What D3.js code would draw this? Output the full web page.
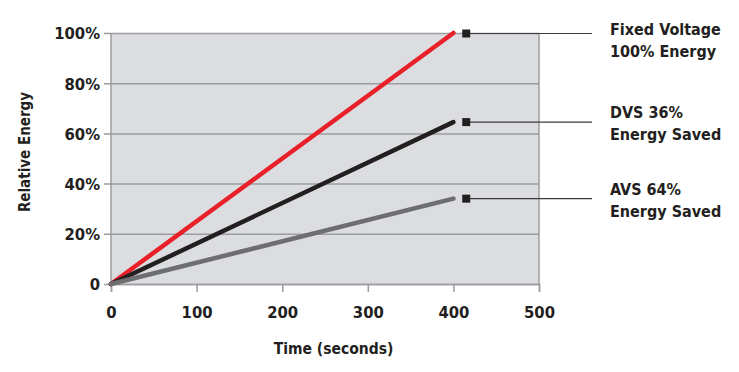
<!DOCTYPE html>
<html>
<head>
<meta charset="utf-8">
<script src="https://cdn.jsdelivr.net/npm/d3@7"></script>
<style>
  body { margin: 0; background: #fff; }
  svg text { font-family: "Liberation Sans Narrow", "DejaVu Sans Condensed", "Arial Narrow", sans-serif; font-weight: bold; fill: #231f20; }
</style>
</head>
<body>
<div id="chart"></div>
<script>
// chart values
var xTicks = [0, 100, 200, 300, 400, 500];
var yTicks = [0, 20, 40, 60, 80, 100];
var seriesNames = ["Fixed Voltage", "DVS", "AVS"];
var seriesEnd = [100, 64.5, 34];   // relative energy at t = 400 s
var seriesTime = [0, 400];
var seriesColors = ["#e8202a", "#231f20", "#6d6e70"];
var legendLines = [
  ["Fixed Voltage", "100% Energy"],
  ["DVS 36%", "Energy Saved"],
  ["AVS 64%", "Energy Saved"]
];

var margin = {top: 33, right: 200, bottom: 88, left: 111},
    width = 739 - margin.left - margin.right,
    height = 372 - margin.top - margin.bottom;

var svg = d3.select("#chart").append("svg")
    .attr("width", 739)
    .attr("height", 372);

var g = svg.append("g")
    .attr("transform", "translate(" + margin.left + "," + margin.top + ")");

var x = d3.scaleLinear().domain([0, 500]).range([0, 428]);
var y = d3.scaleLinear().domain([0, 100]).range([251, 0]);

// plot background
g.append("rect")
    .attr("x", x(0))
    .attr("y", y(100))
    .attr("width", x(500) - x(0))
    .attr("height", y(0) - y(100))
    .attr("fill", "#dcdde0");

// horizontal grid + y axis labels
var yAxis = d3.axisLeft(y)
    .tickValues(yTicks)
    .tickSize(-(x(500) + 7))
    .tickFormat(function(d) { return d === 0 ? "0" : d + "%"; });

var yg = g.append("g")
    .attr("transform", "translate(" + (-7) + ",0)")
    .call(yAxis);
yg.select(".domain").remove();
yg.selectAll("line").attr("stroke", "#9c9da0").attr("stroke-width", 1.5);
yg.selectAll("text")
    .attr("x", -4)
    .attr("font-size", 16.5)
    .attr("dy", "0.36em");

// frame: left and right borders
g.append("line")
    .attr("x1", x(0)).attr("x2", x(0))
    .attr("y1", y(100)).attr("y2", y(0))
    .attr("stroke", "#9c9da0").attr("stroke-width", 1.5);
g.append("line")
    .attr("x1", x(500)).attr("x2", x(500))
    .attr("y1", y(100)).attr("y2", y(0))
    .attr("stroke", "#9c9da0").attr("stroke-width", 1.5);

// x axis
var xAxis = d3.axisBottom(x)
    .tickValues(xTicks)
    .tickSize(8)
    .tickPadding(14);

var xg = g.append("g")
    .attr("transform", "translate(0," + y(0) + ")")
    .call(xAxis);
xg.select(".domain").attr("stroke", "#9c9da0").attr("stroke-width", 1.5);
xg.selectAll("line").attr("stroke", "#9c9da0").attr("stroke-width", 1.5);
xg.selectAll("text").attr("font-size", 16.5);

// series lines
var line = d3.line()
    .x(function(d) { return x(d.t); })
    .y(function(d) { return y(d.v); });

seriesEnd.forEach(function(v, i) {
  var pts = [{t: seriesTime[0], v: 0}, {t: seriesTime[1], v: v}];
  g.append("path")
      .datum(pts)
      .attr("d", line)
      .attr("fill", "none")
      .attr("stroke", seriesColors[i])
      .attr("stroke-width", 4.5)
      .attr("stroke-linecap", "round");
});

// legend markers, leader lines and labels
var markerX = x(415);
seriesEnd.forEach(function(v, i) {
  var yy = i === 0 ? y(v) + 0.5 : y(v);
  g.append("line")
      .attr("x1", markerX).attr("x2", 481)
      .attr("y1", yy).attr("y2", yy)
      .attr("stroke", "#3a3a3a").attr("stroke-width", 1.2);
  g.append("rect")
      .attr("x", markerX - 4).attr("y", yy - 4)
      .attr("width", 8).attr("height", 8)
      .attr("fill", "#231f20");
});

var legendBase = [35, 118, 195];
legendLines.forEach(function(lines, i) {
  var t = svg.append("text")
      .attr("x", 610)
      .attr("y", legendBase[i])
      .attr("font-size", 16);
  lines.forEach(function(s, j) {
    t.append("tspan")
        .attr("x", 610)
        .attr("dy", j === 0 ? 0 : 22)
        .text(s);
  });
});

// axis titles
svg.append("text")
    .attr("x", margin.left + x(260))
    .attr("y", 354)
    .attr("text-anchor", "middle")
    .attr("font-size", 15.5)
    .text("Time (seconds)");

svg.append("text")
    .attr("transform", "translate(30,152) rotate(-90)")
    .attr("text-anchor", "middle")
    .attr("font-size", 15)
    .text("Relative Energy");
</script>
</body>
</html>
